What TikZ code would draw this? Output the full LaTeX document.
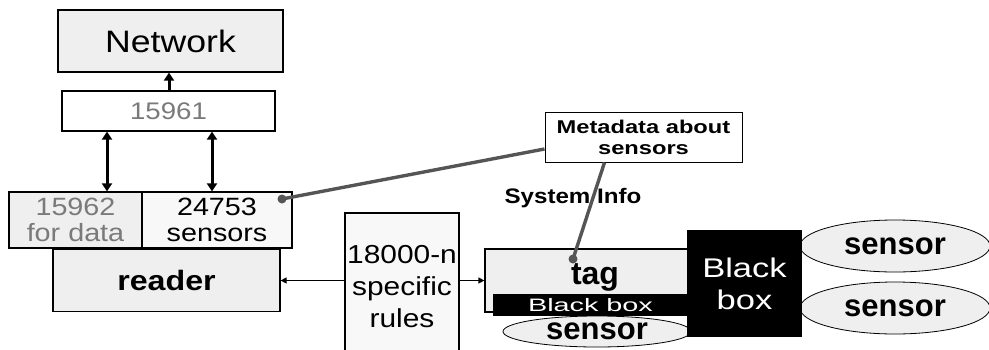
\documentclass[tikz,border=0pt]{standalone}
\usepackage{fontspec}
\setmainfont{Liberation Sans}
\newfontfamily\wf{Liberation Sans}[FakeStretch=1.15]
\newfontfamily\wfw{Liberation Sans}[FakeStretch=1.28]
\newfontfamily\wfs{Liberation Sans}[FakeStretch=1.6]
\usetikzlibrary{arrows.meta,calc,shapes.geometric}
\definecolor{boxfill}{HTML}{EFEFEF}
\definecolor{paleFill}{HTML}{F8F8F8}
\definecolor{lbl}{HTML}{7A7A7A}
\definecolor{wire}{HTML}{555555}
\newcommand{\fs}[2]{\fontsize{#1}{#2}\selectfont}
\tikzset{
  x=1pt, y=-1pt,
  box/.style={draw=black, line width=1.2pt, fill=boxfill, inner sep=0pt, align=center},
  sensorshape/.style={draw=black, line width=0.8pt, fill=boxfill, ellipse, inner sep=0pt,
    font=\fs{31}{34}\bfseries},
  blk/.style={fill=black, text=white, inner sep=0pt, align=center},
  bigarrow/.style={line width=3pt, {Triangle[length=8pt,width=10pt]}-{Triangle[length=8pt,width=10pt]}},
  uparrow/.style={line width=3pt, -{Triangle[length=8pt,width=10pt]}},
  thinarrow/.style={line width=1.2pt, -{Triangle[length=6pt,width=6pt]}},
  wireline/.style={draw=wire, line width=3.4pt},
  dot/.style={circle, fill=wire, inner sep=0pt, minimum size=9pt},
}
\begin{document}
\begin{tikzpicture}
\useasboundingbox (0,0) rectangle (989,349);
\fill[white] (0,0) rectangle (989,349);

% network stack on the left
\node[box, minimum width=225pt, minimum height=62pt, font=\wf\fs{31}{34}] (net) at (170.5,41) {Network};
\node[box, fill=white, minimum width=213pt, minimum height=40pt, font=\wf\fs{24}{27}, text=lbl] (n15961) at (168.5,111) {15961};
\node[box, minimum width=133pt, minimum height=56pt, font=\wf\fs{25}{26}, text=lbl] (n15962) at (75.5,220)
  {15962\\for data};
\node[box, fill=paleFill, minimum width=150pt, minimum height=56pt, font=\wf\fs{25}{26}] (n24753) at (217,220)
  {24753\\sensors};
\node[box, minimum width=227pt, minimum height=62pt, font=\wf\fs{28}{30}\bfseries] (reader) at (166.5,280.5) {reader};

% rules box, running off the lower edge
\node[box, fill=paleFill, minimum width=114pt, minimum height=147pt, font=\wf\fs{26}{32}] (rules) at (402,286.5)
  {18000-n\\specific\\rules};

% tag with its sensors
\node[box, minimum width=203pt, minimum height=63pt, text depth=12pt, font=\fs{32}{34}\bfseries] (tag) at (586.5,280.5) {\hspace*{17pt}tag};
\node[sensorshape, minimum width=188pt, minimum height=31pt] (sb) at (597,331.5) {sensor};
\node[blk, minimum width=195pt, minimum height=22pt, font=\wfs\fs{18}{20}] (strip) at (590.5,305) {Black box};
\node[sensorshape, minimum width=190pt, minimum height=52pt] (s1) at (895,246) {sensor};
\node[sensorshape, minimum width=190pt, minimum height=52pt] (s2) at (895,308) {sensor};
\node[blk, minimum width=115pt, minimum height=107pt, font=\wfw\fs{27}{32}] (bb) at (744.5,283.5)
  {Black\\box};

% metadata note
\node[box, fill=white, line width=1pt, minimum width=197pt, minimum height=50pt, font=\wfw\fs{18.5}{21}\bfseries] (meta) at (643.5,137)
  {Metadata about\\sensors};
\node[font=\wf\fs{21}{24}\bfseries] (sys) at (573,198) {System Info};

% arrows between the stack levels
\draw[uparrow] (n15961.north -| 169,0) -- (net.south -| 169,0);
\draw[bigarrow] ([xshift=31.5pt]n15962.north) -- ([xshift=31.5pt]n15962.north |- n15961.south);
\draw[bigarrow] ([xshift=-5pt]n24753.north) -- ([xshift=-5pt]n24753.north |- n15961.south);
\draw[thinarrow] (rules.west |- reader.east) -- (reader.east);
\draw[thinarrow] (rules.east |- tag.west) -- (tag.west);

% metadata links
\node[dot] (d1) at (282,199) {};
\node[dot] (d2) at (573,259) {};
\draw[wireline] (d1.center) -- ($(meta.west)+(0,12)$);
\draw[wireline] (d2.center) -- ($(meta.south west)+(60,0)$);
\end{tikzpicture}
\end{document}
